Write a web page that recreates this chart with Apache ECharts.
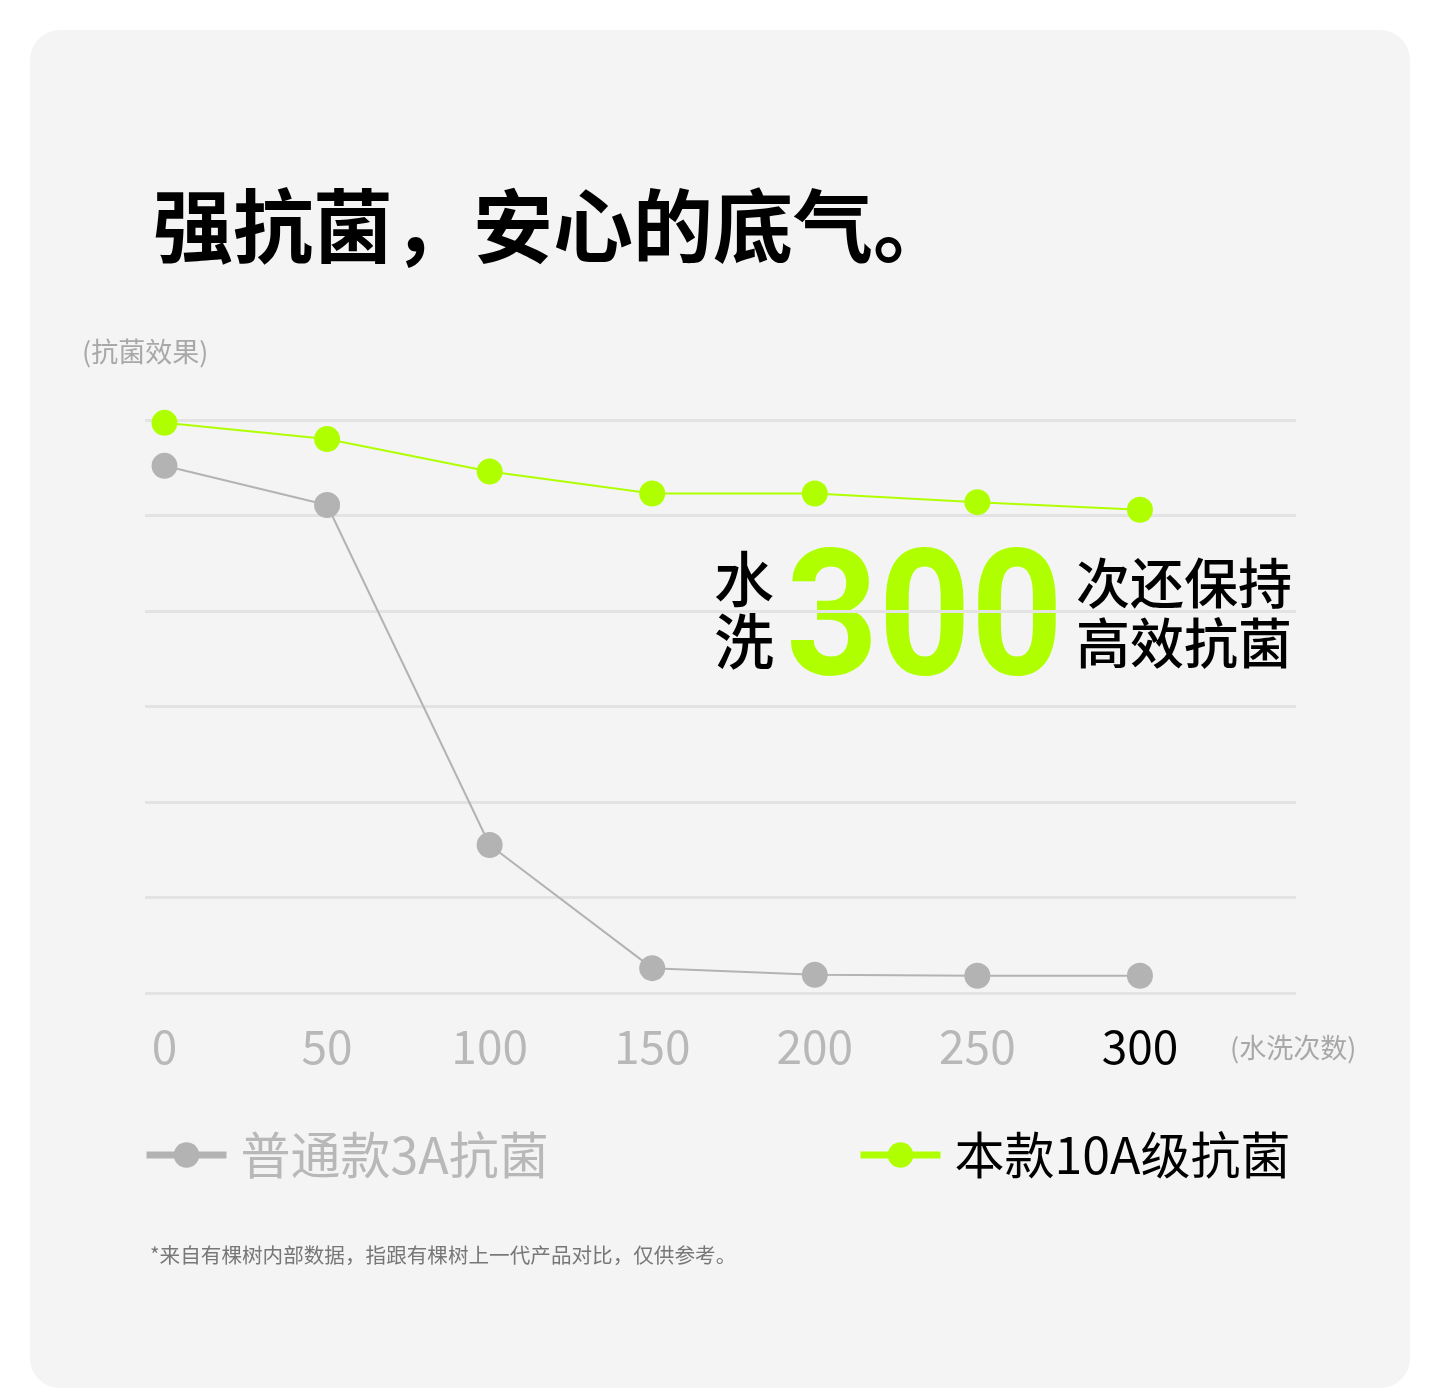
<!DOCTYPE html>
<html>
<head>
<meta charset="utf-8">
<script src="https://cdn.jsdelivr.net/npm/echarts@6/dist/echarts.min.js"></script>
<style>
  html, body { margin: 0; padding: 0; background: #ffffff; }
  #chart { width: 1440px; height: 1390px; }
</style>
</head>
<body>
<div id="chart"></div>
<script>
// 水洗次数
var washes = [0, 50, 100, 150, 200, 250, 300];
// 抗菌效果 (读图估计, 网格 0~6)
var normal3A = [5.52, 5.11, 1.55, 0.26, 0.19, 0.18, 0.18];
var new10A = [5.97, 5.80, 5.46, 5.23, 5.23, 5.14, 5.06];

var CJK = '"Noto Sans CJK SC", "Noto Sans", sans-serif';
var NUM = 'Roboto, "Noto Sans", sans-serif';

function pairs(vals) {
    return washes.map(function (w, i) { return [w, vals[i]]; });
}

var myChart = echarts.init(document.getElementById('chart'));

var option = {
    backgroundColor: '#ffffff',
    animation: false,
    textStyle: { fontFamily: CJK },
    graphic: [
        {
            type: 'rect', z: -10, silent: true,
            shape: { x: 30, y: 30, width: 1380, height: 1358, r: 30 },
            style: { fill: '#f4f4f4' }
        },
        {
            type: 'text', left: 153, top: 186,
            style: { text: '强抗菌，安心的底气。', font: 'bold 80px ' + CJK, fill: '#000' }
        },
        {
            type: 'text', left: 82, top: 338,
            style: { text: '(抗菌效果)', font: '27px ' + CJK, fill: '#a8a8a8' }
        },
        {
            type: 'text', left: 714, top: 548,
            style: { text: '水\n洗', font: '500 60px ' + CJK, fill: '#000', lineHeight: 62 }
        },
        {
            type: 'text', left: 786, top: 542, scaleX: 0.915,
            style: { text: '300', font: 'bold 176px ' + NUM, fill: '#b0ff00' }
        },
        {
            type: 'text', left: 1076, top: 553,
            style: { text: '次还保持\n高效抗菌', font: '500 54px ' + CJK, fill: '#000', lineHeight: 60 }
        },
        {
            type: 'text', left: 1230, top: 1034,
            style: { text: '(水洗次数)', font: '27px ' + CJK, fill: '#a8a8a8' }
        },
        {
            type: 'text', left: 150, top: 1245,
            style: { text: '*来自有棵树内部数据，指跟有棵树上一代产品对比，仅供参考。', font: '20.6px ' + CJK, fill: '#777' }
        }
    ],
    legend: [
        {
            left: 143, top: 1130, padding: 0,
            itemWidth: 80, itemHeight: 32,
            data: [{ name: '普通款3A抗菌', textStyle: { color: '#b8b8b8' } }],
            lineStyle: { width: 7 },
            textStyle: { fontSize: 50, fontFamily: CJK, padding: [0, 0, 0, 9] }
        },
        {
            left: 857, top: 1130, padding: 0,
            itemWidth: 80, itemHeight: 32,
            data: [{ name: '本款10A级抗菌', textStyle: { color: '#000' } }],
            lineStyle: { width: 7 },
            textStyle: { fontSize: 50, fontFamily: CJK, padding: [0, 0, 0, 9] }
        }
    ],
    grid: { left: 145, right: 144, top: 420, bottom: 397 },
    xAxis: {
        type: 'value',
        min: -6,
        max: 348,
        axisLine: { show: false },
        axisTick: { show: false },
        splitLine: { show: false },
        axisLabel: {
            customValues: washes,
            margin: 31,
            formatter: function (v) {
                return v === 300 ? '{hl|' + v + '}' : '{n|' + v + '}';
            },
            rich: {
                n: { fontSize: 46, fontFamily: CJK, color: '#b8b8b8' },
                hl: { fontSize: 46, fontFamily: CJK, color: '#000' }
            }
        }
    },
    yAxis: {
        type: 'value',
        min: 0,
        max: 6,
        interval: 1,
        axisLine: { show: false },
        axisTick: { show: false },
        axisLabel: { show: false },
        splitLine: { lineStyle: { color: '#e3e3e3', width: 3 } }
    },
    series: [
        {
            name: '普通款3A抗菌',
            type: 'line',
            data: pairs(normal3A),
            symbol: 'circle',
            symbolSize: 26,
            itemStyle: { color: '#b3b3b3' },
            lineStyle: { color: '#b3b3b3', width: 2 }
        },
        {
            name: '本款10A级抗菌',
            type: 'line',
            data: pairs(new10A),
            symbol: 'circle',
            symbolSize: 26,
            itemStyle: { color: '#b0ff00' },
            lineStyle: { color: '#b0ff00', width: 2 }
        }
    ]
};

myChart.setOption(option);
</script>
</body>
</html>
